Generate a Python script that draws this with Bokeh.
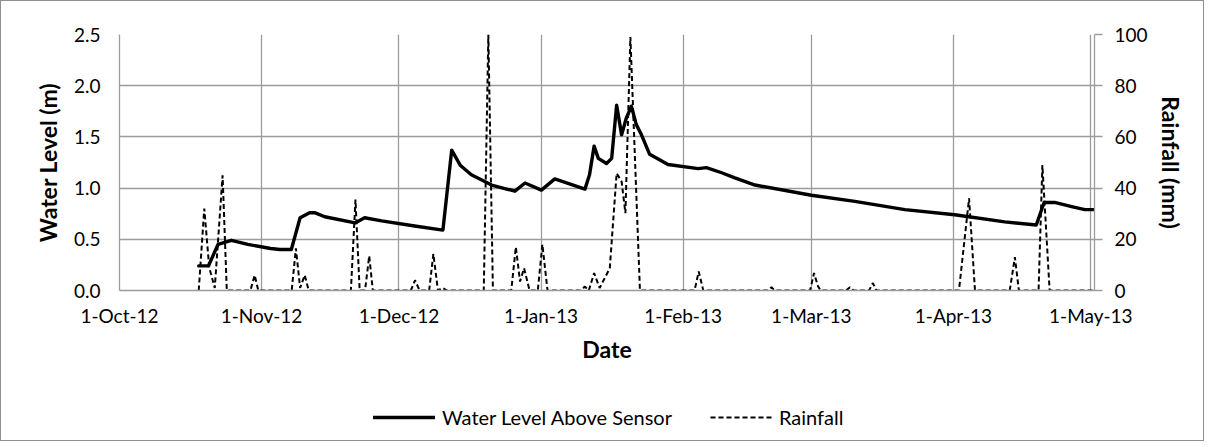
import pandas as pd
from bokeh.plotting import figure
from bokeh.layouts import column
from bokeh.models import (LinearAxis, Range1d, FixedTicker, Legend, LegendItem,
                          NumeralTickFormatter)
from bokeh.embed import file_html
from bokeh.resources import INLINE

# ---------------- data ----------------
level_dates = [
    "2012-10-18 07:00", "2012-10-20 10:00", "2012-10-22 12:00", "2012-10-25 10:00",
    "2012-10-29 00:00", "2012-11-03 00:00", "2012-11-05 00:00", "2012-11-07 12:00",
    "2012-11-09 10:00", "2012-11-11 12:00", "2012-11-12 14:00", "2012-11-14 19:00",
    "2012-11-21 10:00", "2012-11-23 12:00", "2012-11-27 05:00", "2012-12-04 10:00",
    "2012-12-10 14:00", "2012-12-12 12:00", "2012-12-14 10:00", "2012-12-16 19:00",
    "2012-12-21 05:00", "2012-12-26 07:00", "2012-12-28 12:00", "2013-01-01 02:00",
    "2013-01-04 00:00", "2013-01-10 14:00", "2013-01-11 14:00", "2013-01-12 14:00",
    "2013-01-13 12:00", "2013-01-15 07:00", "2013-01-16 10:00", "2013-01-17 12:00",
    "2013-01-18 14:00", "2013-01-19 14:00", "2013-01-20 17:00", "2013-01-21 19:00",
    "2013-01-22 22:00", "2013-01-24 17:00", "2013-01-28 17:00", "2013-02-04 07:00",
    "2013-02-06 02:00", "2013-02-09 10:00", "2013-02-12 07:00", "2013-02-16 17:00",
    "2013-03-01 00:00", "2013-03-10 12:00", "2013-03-21 10:00", "2013-04-01 07:00",
    "2013-04-12 05:00", "2013-04-19 02:00", "2013-04-20 19:00", "2013-04-23 02:00",
    "2013-04-26 19:00", "2013-04-29 17:00", "2013-05-01 14:00",
]
level_m = [
    0.24, 0.24, 0.45, 0.49,
    0.45, 0.41, 0.40, 0.40,
    0.71, 0.76, 0.76, 0.72,
    0.66, 0.71, 0.68, 0.63,
    0.59, 1.37, 1.22, 1.13,
    1.03, 0.97, 1.05, 0.98,
    1.09, 0.99, 1.13, 1.41,
    1.29, 1.24, 1.29, 1.81,
    1.52, 1.68, 1.80, 1.62,
    1.52, 1.33, 1.23, 1.19,
    1.20, 1.15, 1.10, 1.03,
    0.93, 0.87, 0.79, 0.74,
    0.67, 0.64, 0.86, 0.86,
    0.82, 0.79, 0.79,
]

rain_dates = [
    "2012-10-18 07:00", "2012-10-19 12:00", "2012-10-20 14:00", "2012-10-21 19:00",
    "2012-10-23 12:00", "2012-10-24 10:00", "2012-10-29 14:00", "2012-10-30 12:00",
    "2012-10-31 07:00", "2012-11-07 14:00", "2012-11-08 12:00", "2012-11-09 10:00",
    "2012-11-10 10:00", "2012-11-11 07:00", "2012-11-20 12:00", "2012-11-21 12:00",
    "2012-11-22 10:00", "2012-11-23 14:00", "2012-11-24 12:00", "2012-11-25 07:00",
    "2012-12-03 14:00", "2012-12-04 12:00", "2012-12-05 12:00", "2012-12-07 14:00",
    "2012-12-08 12:00", "2012-12-09 12:00", "2012-12-10 12:00", "2012-12-11 12:00",
    "2012-12-19 12:00", "2012-12-20 12:00", "2012-12-21 12:00", "2012-12-25 12:00",
    "2012-12-26 12:00", "2012-12-27 10:00", "2012-12-28 07:00", "2012-12-29 12:00",
    "2012-12-31 07:00", "2013-01-01 07:00", "2013-01-02 10:00", "2013-01-09 12:00",
    "2013-01-10 14:00", "2013-01-11 10:00", "2013-01-12 14:00", "2013-01-13 19:00",
    "2013-01-16 00:00", "2013-01-17 12:00", "2013-01-18 14:00", "2013-01-19 10:00",
    "2013-01-20 12:00", "2013-01-22 14:00", "2013-02-03 12:00", "2013-02-04 10:00",
    "2013-02-05 10:00", "2013-02-19 12:00", "2013-02-20 07:00", "2013-02-21 00:00",
    "2013-02-28 17:00", "2013-03-01 14:00", "2013-03-02 10:00", "2013-03-03 00:00",
    "2013-03-08 14:00", "2013-03-09 10:00", "2013-03-10 05:00", "2013-03-13 14:00",
    "2013-03-14 10:00", "2013-03-15 05:00", "2013-04-02 05:00", "2013-04-04 10:00",
    "2013-04-05 17:00", "2013-04-13 07:00", "2013-04-14 10:00", "2013-04-15 07:00",
    "2013-04-19 14:00", "2013-04-20 10:00", "2013-04-22 00:00", "2013-05-01 14:00",
]
rain_mm = [
    0, 32, 9, 1,
    45, 0, 0, 6,
    0, 0, 16.5, 1,
    6, 0, 0, 35.5,
    0, 0, 13.5, 0,
    0, 4, 0, 0,
    14.3, 0, 1, 0,
    0, 100, 0, 0,
    17, 3.5, 8.7, 0,
    0, 18, 0, 0,
    1.5, 0, 6.8, 1,
    8.7, 45.8, 42.6, 30.2,
    99, 0, 0, 7.4,
    0, 0, 1.3, 0,
    0, 6.8, 1.8, 0,
    0, 1.3, 0, 0,
    2.9, 0, 0, 36,
    0, 0, 13, 0,
    0, 49, 0, 0,
]

tick_dates = ["2012-10-01", "2012-11-01", "2012-12-01", "2013-01-01",
              "2013-02-01", "2013-03-01", "2013-04-01", "2013-05-01"]
tick_labels = ["1-Oct-12", "1-Nov-12", "1-Dec-12", "1-Jan-13",
               "1-Feb-13", "1-Mar-13", "1-Apr-13", "1-May-13"]
level_ticks = [0.0, 0.5, 1.0, 1.5, 2.0, 2.5]
rain_ticks = [0, 20, 40, 60, 80, 100]
series_names = ["Water Level Above Sensor", "Rainfall"]

x_start = "2012-10-01 00:00"
x_end = "2013-05-01 19:00"

# ---------------- plot ----------------
FONT = "Lato"
GRID = "#9b9b9b"
W = 1202

lx = pd.to_datetime(level_dates)
rx = pd.to_datetime(rain_dates)

p = figure(width=W, height=370, x_axis_type="datetime",
           x_range=Range1d(pd.Timestamp(x_start), pd.Timestamp(x_end)),
           y_range=Range1d(0, 2.5),
           output_backend="svg", toolbar_location=None,
           min_border_left=118, min_border_right=109,
           min_border_top=33, min_border_bottom=81)
p.outline_line_color = None
p.background_fill_color = "white"
p.border_fill_color = "white"

p.extra_y_ranges = {"rain": Range1d(0, 100)}

tick_ms = [pd.Timestamp(d).value / 1e6 for d in tick_dates]
p.xaxis.ticker = FixedTicker(ticks=tick_ms)
p.xaxis.major_label_overrides = {t: l for t, l in zip(tick_ms, tick_labels)}
p.xgrid.ticker = FixedTicker(ticks=tick_ms)
p.yaxis.ticker = FixedTicker(ticks=level_ticks)
p.ygrid.ticker = FixedTicker(ticks=level_ticks)
p.yaxis.formatter = NumeralTickFormatter(format="0.0")

for g in (p.xgrid, p.ygrid):
    g.grid_line_color = GRID
    g.grid_line_width = 1.3

LEVEL_STYLE = dict(line_color="black", line_width=3.4, line_join="round", line_cap="round")
RAIN_STYLE = dict(line_color="black", line_width=2, line_dash="5 3")

p.line(lx, level_m, **LEVEL_STYLE)
p.line(rx, rain_mm, y_range_name="rain", **RAIN_STYLE)

rax = LinearAxis(y_range_name="rain", ticker=FixedTicker(ticks=rain_ticks))
p.add_layout(rax, "right")

for ax in (p.xaxis[0], p.yaxis[0], rax):
    ax.axis_line_color = GRID
    ax.axis_line_width = 1.3
    ax.major_tick_line_color = GRID
    ax.major_tick_line_width = 1.3
    ax.minor_tick_line_color = None
    ax.major_tick_in = 0
    ax.major_label_text_font = FONT
    ax.major_label_text_font_size = "19px"
    ax.major_label_text_color = "black"
    ax.axis_label_text_font = FONT
    ax.axis_label_text_font_size = "23px"
    ax.axis_label_text_font_style = "bold"
    ax.axis_label_text_color = "black"

p.xaxis.major_tick_out = 0
p.xaxis.major_label_standoff = 13
p.xaxis.axis_label = "Date"
p.xaxis.axis_label_standoff = 5

p.yaxis[0].major_tick_out = 0
p.yaxis[0].major_label_standoff = 19
p.yaxis[0].axis_label = "Water Level (m)"
p.yaxis[0].axis_label_standoff = 9

rax.major_tick_out = 8
rax.major_label_standoff = 12
rax.axis_label = "Rainfall (mm)"
rax.axis_label_standoff = 6

# ---------------- legend strip ----------------
pl = figure(width=W, height=69, x_range=Range1d(0, 1), y_range=Range1d(0, 1),
            output_backend="svg", toolbar_location=None,
            min_border=0, x_axis_location=None, y_axis_location=None)
pl.outline_line_color = None
pl.grid.visible = False
pl.background_fill_color = "white"
pl.border_fill_color = "white"
nan = float("nan")
k_level = pl.line([nan], [nan], **LEVEL_STYLE)
k_rain = pl.line([nan], [nan], **RAIN_STYLE)

legend = Legend(items=[LegendItem(label=series_names[0], renderers=[k_level]),
                       LegendItem(label=series_names[1], renderers=[k_rain])],
                orientation="horizontal", location=(254, 11),
                border_line_color=None, background_fill_alpha=0,
                label_text_font=FONT, label_text_font_size="20px",
                label_text_color="black",
                glyph_width=62, glyph_height=20, label_standoff=7, spacing=38,
                padding=6, margin=0)
pl.add_layout(legend, "center")

layout = column(p, pl, spacing=0,
                styles={"border": "1px solid #8f8f8f"})

open("out.html", "w").write(file_html(layout, INLINE))
